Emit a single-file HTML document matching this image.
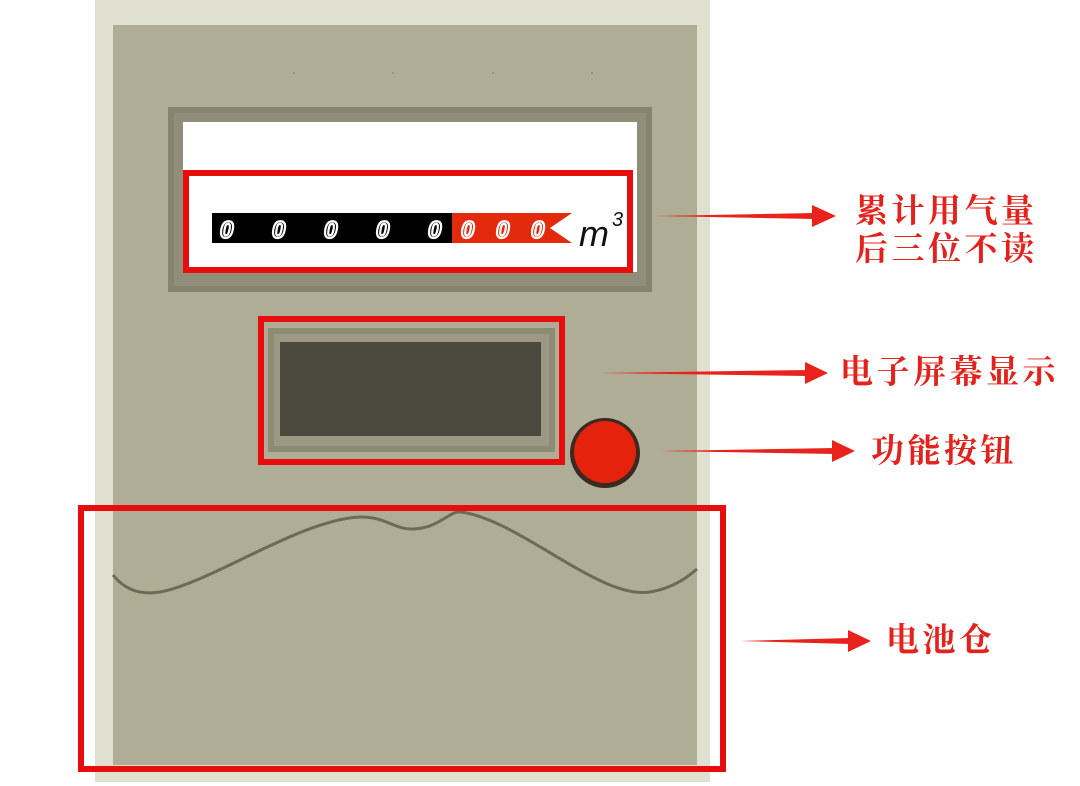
<!DOCTYPE html>
<html><head><meta charset="utf-8"><style>
html,body{margin:0;padding:0;background:#fff;}
body{width:1080px;height:786px;position:relative;overflow:hidden;}
.t{position:absolute;color:#e4221b;font-family:"Liberation Serif","Noto Serif CJK SC",serif;font-weight:bold;font-size:33px;line-height:38px;letter-spacing:3.5px;white-space:nowrap;}
</style></head><body>
<svg width="1080" height="786" style="position:absolute;left:0;top:0">
<rect x="95" y="0" width="615" height="782" fill="#e0e0d0"/>
<rect x="113" y="25" width="584" height="740" fill="#afad96"/>
<g fill="#8e8c78"><circle cx="294" cy="73" r="1"/><circle cx="393" cy="73" r="1"/><circle cx="493" cy="73" r="1"/><circle cx="592" cy="73" r="1"/></g>
<rect x="168" y="107" width="484" height="185" fill="#86846d"/>
<rect x="174" y="113" width="472" height="173" fill="#908e78"/>
<rect x="183" y="122" width="454" height="150" fill="#fff"/>
<rect x="212" y="213" width="242" height="30" fill="#000"/>
<polygon points="452,213 572,213 550,228 572,243 452,243" fill="#e32a0c"/>
<g font-family="Liberation Sans,sans-serif" font-style="italic" font-weight="bold" font-size="24" fill="none" stroke="#fff" stroke-width="2.2">
<text x="220" y="238">0</text><text x="272" y="238">0</text><text x="324" y="238">0</text><text x="376" y="238">0</text><text x="428" y="238">0</text>
<text x="461" y="238">0</text><text x="496" y="238">0</text><text x="531" y="238">0</text></g>
<text x="579" y="246" font-family="Liberation Sans,sans-serif" font-style="italic" font-size="36" fill="#111">m</text>
<text x="612" y="226" font-family="Liberation Sans,sans-serif" font-style="italic" font-size="20" fill="#111">3</text>
<rect x="268" y="328" width="287" height="124" fill="#8d8b74"/>
<rect x="274" y="334" width="275" height="112" fill="#9b9983"/>
<rect x="280" y="342" width="261" height="94" fill="#4b483d"/>
<circle cx="605" cy="453" r="35" fill="#3a2a22"/>
<circle cx="605" cy="452" r="31" fill="#e5220c"/>
<path d="M113,575 C125,590 140,595 160,592 C210,583 300,520 359,517 C385,516 395,530 413,529 C440,528 450,510 461,512 C520,520 600,600 650,592 C675,588 690,575 697,569" fill="none" stroke="#6c6b58" stroke-width="3"/>
<g fill="none" stroke="#e80c0c" stroke-width="6">
<rect x="186" y="173" width="444" height="97"/>
<rect x="261" y="319" width="301" height="143"/>
<rect x="81" y="508" width="642" height="261"/>
</g>
<g fill="#e8231c">
<polygon points="655,216 815,213 815,219"/><polygon points="812,205 836,216 812,227"/>
<polygon points="600,373 808,370 808,376"/><polygon points="805,362 828,373 805,384"/>
<polygon points="660,451 835,448 835,454"/><polygon points="832,440 855,451 832,462"/>
<polygon points="740,641 850,638 850,644"/><polygon points="848,630 871,641 848,652"/>
</g>
</svg>
<div class="t" style="left:855px;top:193px">累计用气量<br>后三位不读</div>
<div class="t" style="left:840px;top:354px">电子屏幕显示</div>
<div class="t" style="left:871px;top:433px">功能按钮</div>
<div class="t" style="left:886px;top:622px">电池仓</div>
</body></html>
